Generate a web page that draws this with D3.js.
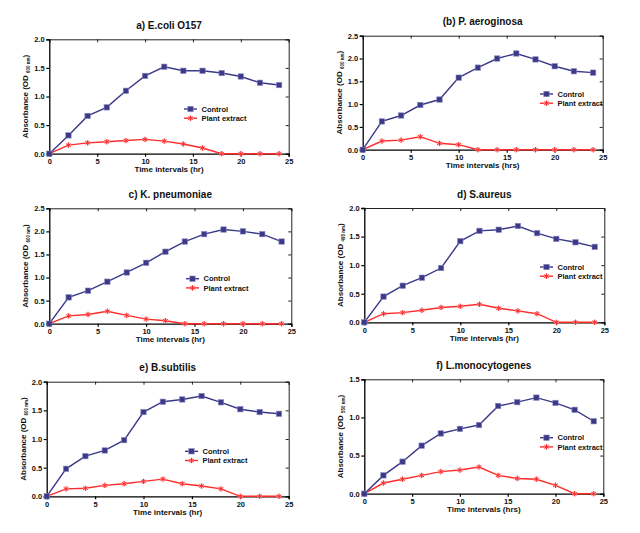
<!DOCTYPE html>
<html>
<head>
<meta charset="utf-8">
<script src="https://cdn.jsdelivr.net/npm/d3@7"></script>
<style>
  html, body { margin: 0; padding: 0; background: #fff; }
  svg { display: block; }
  text { font-family: "Liberation Sans", Arial, sans-serif; font-weight: bold; fill: #111; }
</style>
</head>
<body>
<svg id="chart" width="640" height="533"></svg>
<script>
// ---------------- DATA ----------------
const hours = [0, 2, 4, 6, 8, 10, 12, 14, 16, 18, 20, 22, 24];

const titles = ["a) E.coli O157", "(b) P. aeroginosa", "c) K. pneumoniae", "d) S.aureus", "e) B.subtilis", "f) L.monocytogenes"];
const xLabels = ["Time intervals (hr)", "Time intervals (hrs)", "Time intervals (hr)", "Time intervals (hr)", "Time intervals (hr)", "Time intervals (hrs)"];
const wavelengths = ["600 nm", "600 nm", "600 nm", "495 nm", "600 nm", "550 nm"];
const seriesNames = ["Control", "Plant extract"];
const xTicks = [0, 5, 10, 15, 20, 25];
const yMaxes = [2.0, 2.5, 2.5, 2.0, 2.0, 1.5];

const controlA = [0, 0.32, 0.66, 0.81, 1.10, 1.36, 1.52, 1.45, 1.45, 1.41, 1.35, 1.24, 1.20];
const plantA   = [0, 0.15, 0.19, 0.21, 0.23, 0.25, 0.22, 0.17, 0.10, 0, 0, 0, 0];
const controlB = [0, 0.62, 0.75, 0.98, 1.10, 1.58, 1.80, 2.00, 2.11, 1.98, 1.83, 1.72, 1.69];
const plantB   = [0, 0.19, 0.21, 0.285, 0.14, 0.11, 0, 0, 0, 0, 0, 0, 0];
const controlC = [0, 0.57, 0.715, 0.91, 1.11, 1.32, 1.56, 1.78, 1.94, 2.04, 2.00, 1.94, 1.78];
const plantC   = [0, 0.17, 0.20, 0.27, 0.18, 0.10, 0.065, 0, 0, 0, 0, 0, 0];
const controlD = [0, 0.45, 0.64, 0.78, 0.95, 1.42, 1.60, 1.62, 1.685, 1.56, 1.46, 1.40, 1.32];
const plantD   = [0, 0.15, 0.17, 0.21, 0.26, 0.28, 0.315, 0.245, 0.20, 0.15, 0, 0, 0];
const controlE = [0, 0.48, 0.70, 0.80, 0.98, 1.47, 1.65, 1.69, 1.75, 1.64, 1.52, 1.47, 1.44];
const plantE   = [0, 0.13, 0.14, 0.19, 0.22, 0.26, 0.30, 0.22, 0.18, 0.13, 0, 0, 0];
const controlF = [0, 0.24, 0.42, 0.63, 0.79, 0.85, 0.90, 1.15, 1.20, 1.26, 1.19, 1.10, 0.95];
const plantF   = [0, 0.14, 0.19, 0.24, 0.29, 0.31, 0.35, 0.24, 0.20, 0.19, 0.11, 0, 0];

const controls = [controlA, controlB, controlC, controlD, controlE, controlF];
const plants = [plantA, plantB, plantC, plantD, plantE, plantF];

// ---------------- LAYOUT (plot boxes: left, right, top, bottom) ----------------
const boxes = [
  {l: 49.3, r: 288.7, t: 39.3, b: 153.7, lx: 190.5, ly: 109},
  {l: 362.7, r: 602.7, t: 35.7, b: 149.7, lx: 546.5, ly: 94},
  {l: 49.3, r: 291.3, t: 208.3, b: 323.7, lx: 192.5, ly: 278.7},
  {l: 364.3, r: 604.3, t: 208, b: 322.3, lx: 546.5, ly: 267},
  {l: 46.7, r: 288.7, t: 381.7, b: 496.3, lx: 191.5, ly: 451.3},
  {l: 364.3, r: 603.3, t: 379.3, b: 493.7, lx: 546.5, ly: 437.7}
];

const controlColor = "#3b3988";
const plantColor = "#ff2b2b";
const sq = 5.4;

const svg = d3.select("#chart");

function drawAsterisk(g, x, y) {
  const s = g.append("g").attr("transform", `translate(${x},${y})`);
  s.append("circle").attr("r", 2.6).attr("fill", "#ffb8b8").attr("opacity", 0.7);
  s.append("path")
    .attr("d", d3.symbol().type(d3.symbolAsterisk).size(20)())
    .attr("stroke", plantColor).attr("stroke-width", 1).attr("fill", "none");
}

function drawSquare(g, x, y) {
  g.append("rect")
    .attr("x", x - sq / 2).attr("y", y - sq / 2)
    .attr("width", sq).attr("height", sq)
    .attr("fill", controlColor).attr("stroke", "#8a88c0").attr("stroke-width", 0.6);
}

boxes.forEach((bx, i) => {
  const g = svg.append("g");
  const x = d3.scaleLinear().domain([0, 25]).range([bx.l, bx.r]);
  const yMax = yMaxes[i];
  const y = d3.scaleLinear().domain([0, yMax]).range([bx.b, bx.t]);
  const yTicks = d3.range(0, yMax + 0.001, 0.5);

  // frame (top & right) with inward ticks
  g.append("g").attr("transform", `translate(0,${bx.t})`)
    .call(d3.axisBottom(x).tickValues(xTicks).tickSize(3).tickFormat(""))
    .call(a => a.select(".domain").attr("stroke", "#222").attr("stroke-width", 1))
    .call(a => a.selectAll(".tick line").attr("stroke", "#222"));
  g.append("g").attr("transform", `translate(${bx.r},0)`)
    .call(d3.axisLeft(y).tickValues(yTicks).tickSize(3).tickFormat(""))
    .call(a => a.select(".domain").attr("stroke", "#222").attr("stroke-width", 1))
    .call(a => a.selectAll(".tick line").attr("stroke", "#222"));

  // bottom axis
  g.append("g").attr("transform", `translate(0,${bx.b})`)
    .call(d3.axisBottom(x).tickValues(xTicks).tickSize(3).tickPadding(2).tickFormat(d3.format("d")))
    .call(a => a.select(".domain").attr("stroke", "#000").attr("stroke-width", 1.3))
    .call(a => a.selectAll(".tick line").attr("stroke", "#000").attr("stroke-width", 1.2))
    .call(a => a.selectAll(".tick text").attr("font-size", 7.5).attr("font-family", "Liberation Sans, Arial, sans-serif").attr("font-weight", "bold").attr("fill", "#111"));

  // left axis
  g.append("g").attr("transform", `translate(${bx.l},0)`)
    .call(d3.axisLeft(y).tickValues(yTicks).tickSize(3).tickPadding(1.5).tickFormat(d3.format(".1f")))
    .call(a => a.select(".domain").attr("stroke", "#000").attr("stroke-width", 1.3))
    .call(a => a.selectAll(".tick line").attr("stroke", "#000").attr("stroke-width", 1.2))
    .call(a => a.selectAll(".tick text").attr("font-size", 7.5).attr("font-family", "Liberation Sans, Arial, sans-serif").attr("font-weight", "bold").attr("fill", "#111"));

  // title
  g.append("text")
    .attr("x", (bx.l + bx.r) / 2).attr("y", bx.t - 10.5)
    .attr("text-anchor", "middle").attr("font-size", 10)
    .text(titles[i]);

  // x label
  g.append("text")
    .attr("x", (bx.l + bx.r) / 2).attr("y", bx.b + 18.5)
    .attr("text-anchor", "middle").attr("font-size", 8)
    .text(xLabels[i]);

  // y label
  const yl = g.append("text")
    .attr("transform", `translate(${bx.l - 21},${(bx.t + bx.b) / 2}) rotate(-90)`)
    .attr("text-anchor", "middle").attr("font-size", 8);
  yl.append("tspan").text("Absorbance (OD ");
  yl.append("tspan").attr("font-size", 4.5).attr("dy", 2).text(wavelengths[i]);
  yl.append("tspan").attr("dy", -2).text(")");

  // lines
  const line = d3.line().x((d, j) => x(hours[j])).y(d => y(d));
  g.append("path").datum(plants[i]).attr("d", line)
    .attr("fill", "none").attr("stroke", plantColor).attr("stroke-width", 1.4);
  g.append("path").datum(controls[i]).attr("d", line)
    .attr("fill", "none").attr("stroke", controlColor).attr("stroke-width", 1.4);

  // markers
  plants[i].forEach((v, j) => drawAsterisk(g, x(hours[j]), y(v)));
  controls[i].forEach((v, j) => drawSquare(g, x(hours[j]), y(v)));

  // legend
  const lg = g.append("g");
  [0, 1].forEach(k => {
    const ly = bx.ly + k * 9.2;
    lg.append("line").attr("x1", bx.lx - 6.5).attr("x2", bx.lx + 6.5).attr("y1", ly).attr("y2", ly)
      .attr("stroke", k === 0 ? controlColor : plantColor).attr("stroke-width", 1.4);
    if (k === 0) drawSquare(lg, bx.lx, ly);
    else drawAsterisk(lg, bx.lx, ly);
    lg.append("text").attr("x", bx.lx + 11).attr("y", ly + 2.7)
      .attr("font-size", 7.5).text(seriesNames[k]);
  });
});
</script>
</body>
</html>
